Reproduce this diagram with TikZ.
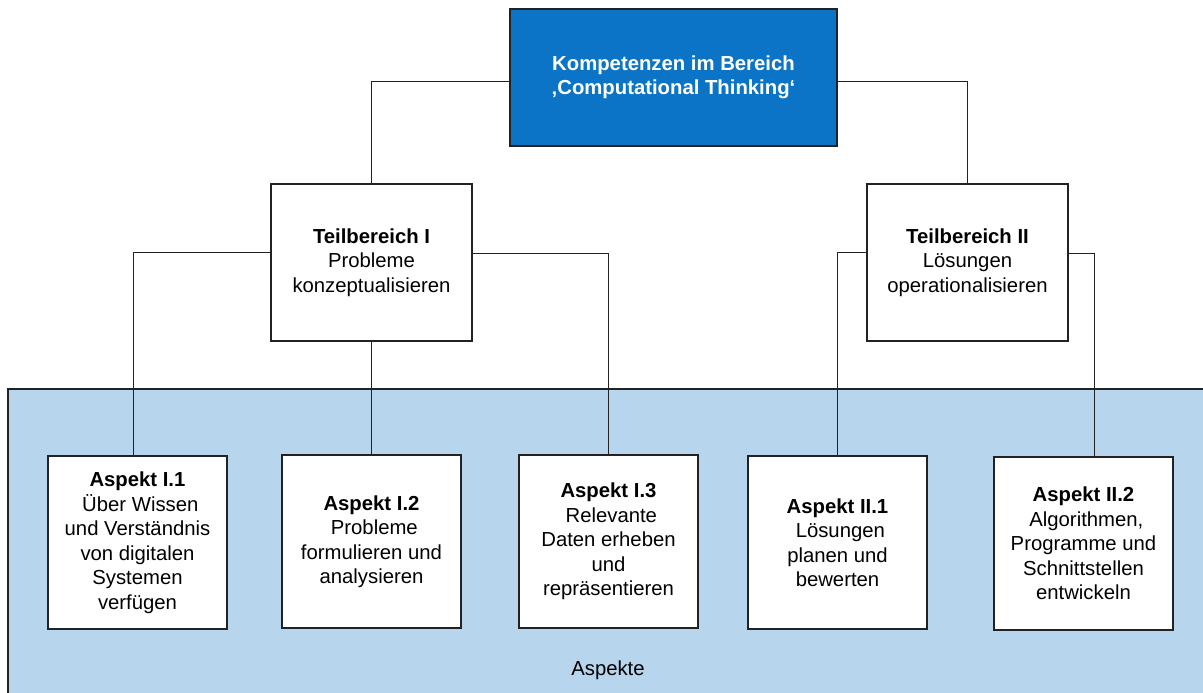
\documentclass[tikz,border=0pt]{standalone}
\usepackage{fontspec}
\setmainfont{Liberation Sans}
\definecolor{topblue}{HTML}{0B74C6}
\definecolor{bandblue}{HTML}{B7D5EC}
\definecolor{edge}{HTML}{222222}
\begin{document}
\begin{tikzpicture}[x=1pt,y=-1pt,
  every node/.style={font=\fontsize{20.3}{24.5}\selectfont},
  box/.style={draw=edge,line width=1.6pt,fill=white,inner sep=0pt,align=center,minimum width=179pt,minimum height=173pt},
  midbox/.style={box,minimum width=201pt,minimum height=157pt},
  topbox/.style={box,fill=topblue,text=white,minimum width=327pt,minimum height=137pt},
  conn/.style={draw=edge,line width=1.8pt}]
\useasboundingbox (0,0) rectangle (1203,693);
% band
\fill[bandblue] (8,389) rectangle (1210,700);
\draw[edge,line width=2.2pt] (8,700) -- (8,389) -- (1210,389);
\node (asp) at (608,670) {Aspekte};
% boxes
\node[topbox] (top) at (673.5,77.5) {\textbf{Kompetenzen im Bereich}\\\textbf{‚Computational Thinking‘}};
\node[midbox] (T1) at (371.5,262.5) {\textbf{Teilbereich I}\\Probleme\\konzeptualisieren};
\node[midbox] (T2) at (967.5,262.5) {\textbf{Teilbereich II}\\Lösungen\\operationalisieren};
\node[box] (A11) at (137.5,542.5) {\textbf{Aspekt I.1}\\\hspace*{0.28em}Über Wissen\\und Verständnis\\von digitalen\\Systemen\\verfügen};
\node[box] (A12) at (371.5,541.5) {\textbf{Aspekt I.2}\\\hspace*{0.28em}Probleme\\formulieren und\\analysieren};
\node[box] (A13) at (608.5,541.5) {\textbf{Aspekt I.3}\\\hspace*{0.28em}Relevante\\Daten erheben\\und\\repräsentieren};
\node[box] (A21) at (837.5,542.5) {\textbf{Aspekt II.1}\\\hspace*{0.28em}Lösungen\\planen und\\bewerten};
\node[box] (A22) at (1083.5,543.5) {\textbf{Aspekt II.2}\\\hspace*{0.28em}Algorithmen,\\Programme und\\Schnittstellen\\entwickeln};
% connectors
\coordinate (a11in) at ([xshift=-4pt]A11.north);
\coordinate (a22in) at ([xshift=11pt]A22.north);
\draw[conn] ([yshift=-4pt]top.west) -| (T1.north);
\draw[conn] ([yshift=-4pt]top.east) -| (T2.north);
\draw[conn] ([yshift=10pt]T1.west) -| (a11in);
\draw[conn] ([yshift=9pt]T1.east) -| (A13.north);
\draw[conn] (T1.south) -- (A12.north);
\draw[conn] ([yshift=10pt]T2.west) -| (A21.north);
\draw[conn] ([yshift=9pt]T2.east) -| (a22in);
\end{tikzpicture}
\end{document}
